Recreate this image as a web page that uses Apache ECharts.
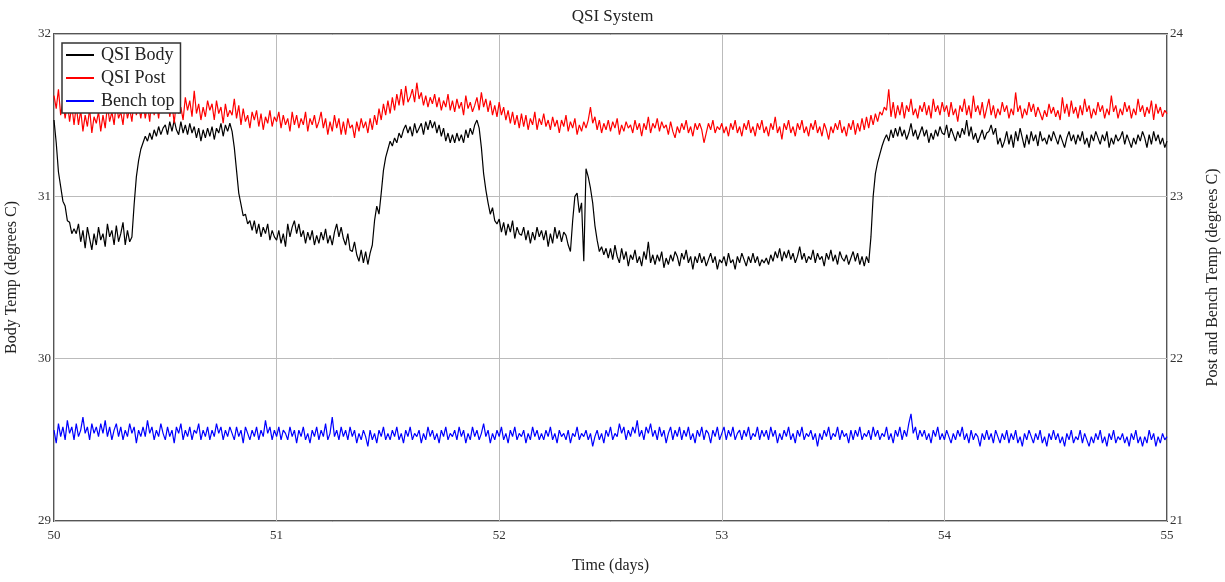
<!DOCTYPE html>
<html>
<head>
<meta charset="utf-8">
<script src="https://cdn.jsdelivr.net/npm/echarts@6/dist/echarts.min.js"></script>
<style>html,body{margin:0;padding:0;background:#fff}#c{width:1225px;height:582px}</style>
</head>
<body>
<div id="c"></div>
<script>
// Sampling: one reading every 0.01 day from day 50 to 55
const startDay = 50, stepDay = 0.01;
const xTicks = [50, 51, 52, 53, 54, 55];
const leftTicks = [29, 30, 31, 32];
const rightTicks = [21, 22, 23, 24];
const seriesNames = ['QSI Body', 'QSI Post', 'Bench top'];

// QSI Body (left axis, degrees C)
const qsiBody = [
31.47,31.33,31.15,31.06,30.97,30.94,30.85,30.84,30.77,30.80,
30.77,30.83,30.72,30.79,30.68,30.81,30.74,30.67,30.77,30.70,
30.81,30.73,30.77,30.69,30.83,30.75,30.79,30.70,30.82,30.72,
30.77,30.84,30.70,30.79,30.72,30.75,30.95,31.12,31.22,31.29,
31.33,31.37,31.34,31.39,31.35,31.41,31.37,31.43,31.38,31.42,
31.44,31.38,31.46,31.40,31.47,31.41,31.38,31.46,31.39,31.44,
31.38,31.45,31.39,31.43,31.36,31.42,31.34,31.41,31.36,31.42,
31.37,31.43,31.35,31.42,31.39,31.45,31.37,31.44,31.40,31.45,
31.40,31.30,31.16,31.02,30.95,30.88,30.89,30.83,30.85,30.79,
30.85,30.77,30.83,30.75,30.81,30.77,30.83,30.73,30.79,30.75,
30.73,30.79,30.71,30.77,30.69,30.83,30.75,30.81,30.85,30.77,
30.83,30.75,30.79,30.71,30.78,30.73,30.79,30.70,30.76,30.71,
30.78,30.73,30.80,30.71,30.76,30.70,30.78,30.83,30.75,30.81,
30.74,30.70,30.77,30.67,30.66,30.72,30.64,30.60,30.67,30.59,
30.66,30.58,30.65,30.70,30.85,30.94,30.89,31.02,31.16,31.24,
31.29,31.34,31.31,31.36,31.33,31.39,31.36,31.41,31.44,31.39,
31.43,31.37,31.45,31.39,31.42,31.45,31.38,31.46,31.41,31.47,
31.42,31.46,31.39,31.44,31.37,31.42,31.34,31.39,31.33,31.38,
31.33,31.39,31.34,31.38,31.33,31.41,31.36,31.42,31.38,31.44,
31.47,31.42,31.30,31.14,31.04,30.96,30.89,30.93,30.85,30.83,
30.86,30.78,30.84,30.76,30.83,30.78,30.85,30.74,30.81,30.77,
30.76,30.81,30.73,30.79,30.71,30.78,30.73,30.81,30.75,30.79,
30.73,30.79,30.69,30.77,30.71,30.81,30.74,30.79,30.72,30.78,
30.76,30.70,30.66,30.85,31.00,31.02,30.90,30.96,30.60,31.17,
31.12,31.05,30.96,30.82,30.73,30.66,30.69,30.64,30.68,30.62,
30.68,30.61,30.70,30.63,30.59,30.68,30.61,30.66,30.57,30.64,
30.61,30.67,30.59,30.63,30.57,30.66,30.61,30.72,30.59,30.64,
30.58,30.64,30.60,30.66,30.56,30.62,30.58,30.64,30.60,30.66,
30.63,30.57,30.65,30.61,30.67,30.59,30.63,30.55,30.63,30.59,
30.65,30.59,30.63,30.57,30.61,30.65,30.59,30.63,30.55,30.61,
30.59,30.63,30.57,30.65,30.59,30.61,30.55,30.63,30.59,30.65,
30.61,30.57,30.63,30.59,30.65,30.59,30.63,30.57,30.61,30.59,
30.62,30.58,30.64,30.60,30.66,30.62,30.68,30.60,30.66,30.62,
30.67,30.61,30.65,30.59,30.63,30.69,30.61,30.65,30.59,30.63,
30.61,30.67,30.59,30.65,30.61,30.63,30.57,30.65,30.61,30.67,
30.60,30.64,30.58,30.66,30.62,30.60,30.64,30.58,30.62,30.66,
30.60,30.65,30.58,30.63,30.57,30.63,30.59,30.75,31.00,31.14,
31.21,31.26,31.31,31.35,31.38,31.34,31.41,31.36,31.42,31.37,
31.43,31.37,31.41,31.35,31.39,31.45,31.37,31.41,31.35,31.39,
31.43,31.37,31.41,31.33,31.39,31.35,31.41,31.37,31.43,31.39,
31.38,31.44,31.36,31.42,31.38,31.34,31.40,31.36,31.42,31.38,
31.47,31.37,31.43,31.35,31.39,31.33,31.37,31.41,31.35,31.39,
31.40,31.44,31.38,31.42,31.32,31.36,31.30,31.34,31.40,31.32,
31.38,31.30,31.40,31.34,31.42,31.36,31.30,31.38,31.32,31.40,
31.34,31.38,31.31,31.40,31.34,31.36,31.32,31.38,31.34,31.40,
31.36,31.32,31.38,31.34,31.30,31.36,31.40,31.34,31.38,31.32,
31.38,31.34,31.40,31.32,31.36,31.30,31.38,31.34,31.40,31.36,
31.32,31.38,31.34,31.40,31.30,31.36,31.32,31.38,31.34,31.36,
31.40,31.32,31.38,31.34,31.30,31.36,31.32,31.38,31.34,31.40,
31.36,31.30,31.38,31.32,31.40,31.34,31.38,31.32,31.36,31.30,
31.34
];

// QSI Post (right axis, degrees C)
const qsiPost = [
23.62,23.54,23.66,23.50,23.59,23.48,23.58,23.46,23.56,23.44,
23.56,23.44,23.53,23.40,23.50,23.43,23.54,23.39,23.49,23.45,
23.52,23.40,23.50,23.42,23.56,23.46,23.52,23.44,23.58,23.48,
23.52,23.44,23.58,23.48,23.54,23.46,23.60,23.50,23.56,23.48,
23.58,23.48,23.56,23.46,23.62,23.50,23.58,23.48,23.60,23.52,
23.55,23.63,23.49,23.57,23.45,23.59,23.51,23.55,23.47,23.61,
23.53,23.59,23.49,23.65,23.51,23.57,23.47,23.55,23.49,23.59,
23.53,23.57,23.47,23.59,23.51,23.55,23.45,23.57,23.49,23.53,
23.50,23.60,23.48,23.56,23.44,23.54,23.46,23.50,23.42,23.52,
23.47,23.53,23.43,23.51,23.41,23.49,23.45,23.53,23.43,23.49,
23.46,23.52,23.42,23.50,23.44,23.48,23.40,23.52,23.44,23.50,
23.42,23.48,23.44,23.52,23.40,23.48,23.44,23.50,23.42,23.46,
23.52,23.42,23.48,23.38,23.46,23.40,23.50,23.42,23.48,23.38,
23.46,23.38,23.48,23.42,23.44,23.36,23.46,23.40,23.48,23.42,
23.46,23.39,23.48,23.41,23.50,23.44,23.54,23.47,23.57,23.50,
23.59,23.51,23.61,23.53,23.63,23.56,23.66,23.56,23.68,23.58,
23.61,23.66,23.58,23.70,23.60,23.64,23.56,23.62,23.55,23.61,
23.57,23.63,23.55,23.61,23.53,23.59,23.55,23.63,23.53,23.59,
23.52,23.60,23.54,23.58,23.50,23.62,23.54,23.58,23.52,23.56,
23.61,23.53,23.64,23.55,23.60,23.52,23.59,23.50,23.56,23.49,
23.58,23.50,23.55,23.47,23.53,23.45,23.52,23.44,23.50,23.42,
23.51,23.43,23.50,23.41,23.48,23.44,23.52,23.41,23.48,23.44,
23.51,23.43,23.47,23.41,23.49,23.43,23.47,23.39,23.47,23.43,
23.50,23.40,23.46,23.42,23.48,23.38,23.44,23.40,23.46,23.42,
23.47,23.55,23.45,23.49,23.41,23.47,23.39,23.45,23.41,23.47,
23.40,23.46,23.42,23.48,23.38,23.44,23.40,23.46,23.42,23.44,
23.39,23.47,23.41,23.45,23.37,23.45,23.41,23.49,23.39,23.45,
23.42,23.48,23.40,23.46,23.42,23.44,23.38,23.46,23.40,23.36,
23.43,23.39,23.45,23.41,23.47,23.39,23.43,23.37,23.45,23.41,
23.45,23.41,23.33,23.39,23.45,23.41,23.47,23.39,23.43,23.41,
23.45,23.39,23.43,23.37,23.45,23.41,23.47,23.39,23.43,23.37,
23.45,23.41,23.47,23.39,23.43,23.37,23.45,23.41,23.47,23.39,
23.43,23.37,23.45,23.41,23.49,23.39,23.43,23.35,23.45,23.41,
23.47,23.39,23.43,23.37,23.45,23.41,23.47,23.39,23.43,23.37,
23.45,23.41,23.47,23.39,23.43,23.37,23.45,23.41,23.35,23.43,
23.39,23.45,23.41,23.47,23.39,23.43,23.37,23.45,23.41,23.47,
23.38,23.45,23.40,23.48,23.41,23.49,23.42,23.50,23.44,23.51,
23.46,23.52,23.50,23.55,23.53,23.66,23.49,23.58,23.48,23.56,
23.50,23.58,23.48,23.56,23.52,23.60,23.50,23.54,23.48,23.56,
23.52,23.58,23.50,23.56,23.48,23.60,23.52,23.56,23.50,23.58,
23.52,23.56,23.49,23.58,23.50,23.54,23.46,23.56,23.52,23.60,
23.50,23.56,23.48,23.62,23.52,23.56,23.50,23.58,23.48,23.54,
23.60,23.50,23.56,23.48,23.54,23.50,23.58,23.52,23.56,23.48,
23.54,23.50,23.64,23.52,23.56,23.48,23.54,23.50,23.58,23.52,
23.57,23.49,23.55,23.51,23.47,23.53,23.49,23.57,23.51,23.55,
23.49,23.53,23.47,23.61,23.51,23.57,23.49,23.59,23.51,23.55,
23.48,23.56,23.50,23.60,23.52,23.56,23.48,23.54,23.50,23.58,
23.52,23.56,23.48,23.54,23.50,23.62,23.52,23.56,23.48,23.54,
23.50,23.58,23.52,23.56,23.48,23.54,23.50,23.60,23.52,23.56,
23.49,23.55,23.51,23.59,23.47,23.57,23.51,23.55,23.49,23.53,
23.51
];

// Bench top (right axis, degrees C)
const benchTop = [
21.56,21.48,21.60,21.52,21.58,21.50,21.62,21.54,21.58,21.50,
21.60,21.52,21.56,21.64,21.54,21.58,21.50,21.60,21.54,21.58,
21.52,21.60,21.54,21.62,21.52,21.58,21.50,21.56,21.60,21.52,
21.58,21.50,21.56,21.52,21.60,21.54,21.58,21.48,21.56,21.52,
21.58,21.52,21.62,21.54,21.58,21.50,21.56,21.52,21.60,21.54,
21.50,21.58,21.52,21.56,21.48,21.58,21.54,21.60,21.50,21.56,
21.52,21.58,21.50,21.56,21.54,21.60,21.50,21.56,21.52,21.58,
21.50,21.56,21.52,21.60,21.54,21.58,21.50,21.56,21.52,21.58,
21.54,21.50,21.58,21.52,21.56,21.48,21.58,21.54,21.50,21.56,
21.52,21.58,21.50,21.56,21.52,21.62,21.54,21.58,21.50,21.56,
21.52,21.58,21.50,21.56,21.54,21.50,21.58,21.52,21.56,21.48,
21.56,21.52,21.58,21.50,21.54,21.48,21.56,21.52,21.58,21.50,
21.56,21.52,21.60,21.50,21.54,21.64,21.52,21.56,21.50,21.58,
21.52,21.56,21.50,21.58,21.52,21.56,21.48,21.54,21.50,21.56,
21.52,21.46,21.56,21.50,21.54,21.48,21.56,21.52,21.58,21.50,
21.54,21.50,21.56,21.52,21.58,21.50,21.54,21.48,21.56,21.52,
21.58,21.50,21.54,21.52,21.56,21.48,21.54,21.50,21.58,21.52,
21.56,21.50,21.54,21.48,21.56,21.52,21.58,21.50,21.54,21.52,
21.56,21.50,21.58,21.52,21.56,21.48,21.54,21.50,21.58,21.52,
21.56,21.50,21.54,21.60,21.52,21.56,21.48,21.54,21.50,21.56,
21.52,21.58,21.50,21.54,21.48,21.56,21.52,21.58,21.50,21.54,
21.52,21.56,21.48,21.54,21.50,21.58,21.52,21.56,21.50,21.54,
21.50,21.56,21.52,21.58,21.50,21.54,21.48,21.56,21.52,21.54,
21.50,21.56,21.48,21.54,21.52,21.58,21.50,21.54,21.52,21.56,
21.50,21.54,21.46,21.52,21.56,21.50,21.54,21.48,21.56,21.52,
21.58,21.50,21.54,21.52,21.60,21.54,21.58,21.50,21.56,21.52,
21.58,21.54,21.62,21.52,21.56,21.50,21.58,21.54,21.60,21.52,
21.56,21.50,21.58,21.52,21.56,21.48,21.54,21.58,21.50,21.56,
21.52,21.58,21.50,21.56,21.52,21.58,21.50,21.54,21.48,21.56,
21.52,21.58,21.50,21.56,21.54,21.48,21.56,21.52,21.58,21.50,
21.54,21.58,21.50,21.56,21.52,21.58,21.50,21.54,21.56,21.50,
21.56,21.52,21.58,21.50,21.54,21.52,21.58,21.50,21.56,21.52,
21.56,21.50,21.58,21.52,21.56,21.48,21.54,21.50,21.56,21.52,
21.58,21.50,21.54,21.48,21.56,21.52,21.58,21.50,21.54,21.52,
21.56,21.50,21.54,21.46,21.54,21.50,21.56,21.52,21.58,21.50,
21.54,21.52,21.58,21.50,21.56,21.52,21.54,21.48,21.56,21.50,
21.56,21.52,21.58,21.50,21.54,21.52,21.56,21.50,21.58,21.52,
21.56,21.50,21.54,21.52,21.58,21.50,21.54,21.48,21.56,21.52,
21.58,21.50,21.56,21.52,21.60,21.66,21.54,21.58,21.50,21.56,
21.52,21.56,21.50,21.54,21.48,21.56,21.52,21.58,21.50,21.54,
21.50,21.56,21.52,21.48,21.54,21.50,21.56,21.52,21.58,21.50,
21.54,21.48,21.56,21.50,21.54,21.52,21.46,21.54,21.50,21.56,
21.50,21.54,21.48,21.56,21.52,21.48,21.54,21.50,21.56,21.48,
21.54,21.50,21.56,21.48,21.52,21.46,21.54,21.50,21.56,21.52,
21.48,21.54,21.50,21.56,21.48,21.52,21.46,21.54,21.50,21.56,
21.50,21.54,21.48,21.52,21.46,21.54,21.50,21.56,21.48,21.52,
21.50,21.56,21.48,21.54,21.50,21.46,21.52,21.48,21.54,21.50,
21.56,21.48,21.52,21.46,21.54,21.50,21.56,21.48,21.52,21.50,
21.54,21.48,21.52,21.46,21.54,21.50,21.56,21.48,21.52,21.46,
21.52,21.48,21.56,21.50,21.54,21.46,21.52,21.48,21.54,21.50,
21.52
];

function pairs(vals) {
  return vals.map((v, i) => [+(startDay + i * stepDay).toFixed(2), v]);
}

const FONT = '"Liberation Serif", "DejaVu Serif", serif';
const chart = echarts.init(document.getElementById('c'), null, {renderer: 'canvas'});
chart.setOption({
  animation: false,
  backgroundColor: '#fff',
  textStyle: {fontFamily: FONT},
  title: {
    text: 'QSI System', left: 'center', top: 3,
    textStyle: {fontFamily: FONT, fontSize: 17, fontWeight: 'normal', color: '#222'}
  },
  legend: {
    data: seriesNames,
    orient: 'vertical', left: 62, top: 43,
    backgroundColor: '#fff', borderColor: '#333', borderWidth: 1.5,
    padding: [2, 6, 2, 4], itemGap: 3,
    itemWidth: 28, itemHeight: 2, icon: 'rect',
    textStyle: {fontFamily: FONT, fontSize: 18, color: '#222', lineHeight: 20, padding: [0, 0, 0, 2]}
  },
  grid: {
    left: 54, right: 58, top: 34, bottom: 61, containLabel: false, outerBoundsMode: 'none',
    show: true, borderColor: '#555', borderWidth: 2, backgroundColor: 'transparent'
  },
  xAxis: {
    type: 'value', min: xTicks[0], max: xTicks[xTicks.length - 1], interval: 1,
    name: 'Time (days)', nameLocation: 'middle', nameGap: 37,
    nameTextStyle: {fontFamily: FONT, fontSize: 16, color: '#222'},
    axisLine: {show: false}, axisTick: {show: false},
    axisLabel: {fontFamily: FONT, fontSize: 13, color: '#333', margin: 8},
    splitLine: {show: true, lineStyle: {color: '#bbb', width: 1}}
  },
  yAxis: [
    {
      type: 'value', min: leftTicks[0], max: leftTicks[leftTicks.length - 1], interval: 1,
      name: 'Body Temp (degrees C)', nameLocation: 'middle', nameRotate: 90, nameGap: 34,
      nameTextStyle: {fontFamily: FONT, fontSize: 16, color: '#222'},
      axisLine: {show: false}, axisTick: {show: false},
      axisLabel: {fontFamily: FONT, fontSize: 13, color: '#333', margin: 3},
      splitLine: {show: true, lineStyle: {color: '#bbb', width: 1}}
    },
    {
      type: 'value', position: 'right', min: rightTicks[0], max: rightTicks[rightTicks.length - 1], interval: 1,
      name: 'Post and Bench Temp (degrees C)', nameLocation: 'middle', nameRotate: 90, nameGap: 38,
      nameTextStyle: {fontFamily: FONT, fontSize: 16, color: '#222'},
      axisLine: {show: false}, axisTick: {show: false},
      axisLabel: {fontFamily: FONT, fontSize: 13, color: '#333', margin: 3},
      splitLine: {show: false}
    }
  ],
  series: [
    {name: seriesNames[0], type: 'line', yAxisIndex: 0, data: pairs(qsiBody), showSymbol: false, symbol: 'none',
     lineStyle: {color: '#000', width: 1.2}, itemStyle: {color: '#000'}},
    {name: seriesNames[1], type: 'line', yAxisIndex: 1, data: pairs(qsiPost), showSymbol: false, symbol: 'none',
     lineStyle: {color: '#ff0000', width: 1.2}, itemStyle: {color: '#ff0000'}},
    {name: seriesNames[2], type: 'line', yAxisIndex: 1, data: pairs(benchTop), showSymbol: false, symbol: 'none',
     lineStyle: {color: '#0000ff', width: 1.2}, itemStyle: {color: '#0000ff'}}
  ]
});
</script>
</body>
</html>
